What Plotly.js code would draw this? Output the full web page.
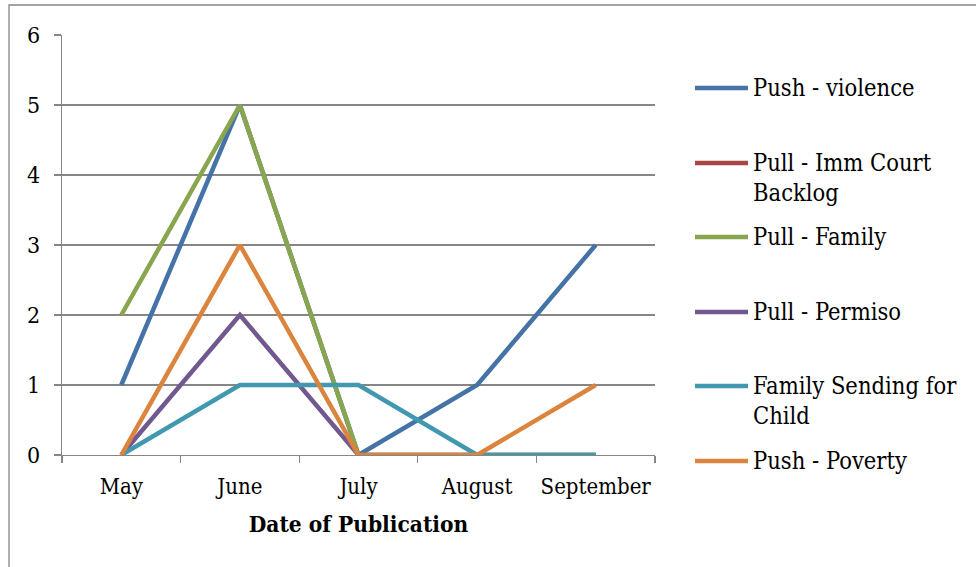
<!DOCTYPE html>
<html>
<head>
<meta charset="utf-8">
<script src="https://cdn.plot.ly/plotly-3.0.1.min.js"></script>
<style>
html,body{margin:0;padding:0;background:#fff;}
#chart{width:976px;height:567px;}
</style>
</head>
<body>
<div id="chart"></div>
<script>
const months = ["May", "June", "July", "August", "September"];
const seriesNames = ["Push - violence", "Pull - Imm Court<br>Backlog", "Pull - Family", "Pull - Permiso", "Family Sending for<br>Child", "Push - Poverty"];
const pushViolence = [1, 5, 0, 1, 3];
const pullCourtBacklog = [null, null, null, null, null];
const pullFamily = [2, 5, 0, 0, 0];
const pullPermiso = [0, 2, 0, 0, 0];
const familySending = [0, 1, 1, 0, 0];
const pushPoverty = [0, 3, 0, 0, 1];
const yTicks = [0, 1, 2, 3, 4, 5, 6];
const seriesColors = ["#4572A7", "#AA4643", "#89A54E", "#71588F", "#4198AF", "#DB843D"];

const values = [pushViolence, pullCourtBacklog, pullFamily, pullPermiso, familySending, pushPoverty];

const FONT = "DejaVu Serif Condensed";
const L = 62, R = 655, T = 35, B = 455, W = 976, H = 567;
const px = x => (x - L) / (R - L);
const py = y => (B - y) / (B - T);

const traces = values.map((v, i) => ({
  x: months, y: v, type: "scatter", mode: "lines",
  name: seriesNames[i].replace("<br>", " "),
  line: {color: seriesColors[i], width: 4.5},
  connectgaps: false, showlegend: false, hoverinfo: "x+y+name"
}));

const shapes = [{
  type: "rect", xref: "paper", yref: "paper",
  x0: px(9), x1: px(985), y0: py(580), y1: py(5),
  line: {color: "#868686", width: 1.3}, fillcolor: "rgba(0,0,0,0)", layer: "below"
}];
const annotations = [];
const legendY = [88, 163, 237, 312, 386, 461];
seriesNames.forEach((n, i) => {
  shapes.push({
    type: "line", xref: "paper", yref: "paper",
    x0: px(695), x1: px(748), y0: py(legendY[i]), y1: py(legendY[i]),
    line: {color: seriesColors[i], width: 4.5}
  });
  n.split("<br>").forEach((part, k) => {
    annotations.push({
      xref: "paper", yref: "paper", x: px(751), y: py(legendY[i] + 30 * k),
      xanchor: "left", yanchor: "middle", align: "left", showarrow: false,
      text: part, font: {family: FONT, size: 23.5, color: "#000"}
    });
  });
});

const layout = {
  width: W, height: H,
  margin: {l: L, r: W - R, t: T, b: H - B, pad: 0},
  paper_bgcolor: "#fff", plot_bgcolor: "#fff",
  showlegend: false,
  font: {family: FONT, size: 23, color: "#000"},
  xaxis: {
    type: "category", range: [-0.5, 4.5], tickangle: 0,
    tickson: "boundaries", ticks: "outside", ticklen: 7, tickcolor: "#868686", tickwidth: 1.3,
    showline: true, linecolor: "#868686", linewidth: 1.3,
    showgrid: false, zeroline: false,
    tickfont: {family: FONT, size: 22, color: "#000"},
    ticklabelstandoff: 11,
    title: {text: "<b>Date of Publication</b>", font: {family: FONT, size: 22.5, color: "#000"}, standoff: 18}
  },
  yaxis: {
    range: [0, 6], tickvals: yTicks, ticktext: yTicks.map(String),
    ticks: "outside", ticklen: 7, tickcolor: "#868686", tickwidth: 1.3,
    showline: true, linecolor: "#868686", linewidth: 1.3,
    showgrid: true, gridcolor: "#868686", gridwidth: 1.3, zeroline: false,
    tickfont: {family: FONT, size: 23, color: "#000"},
    ticklabelstandoff: 9
  },
  shapes: shapes,
  annotations: annotations
};

Plotly.newPlot("chart", traces, layout, {displayModeBar: false, staticPlot: true});
</script>
</body>
</html>
